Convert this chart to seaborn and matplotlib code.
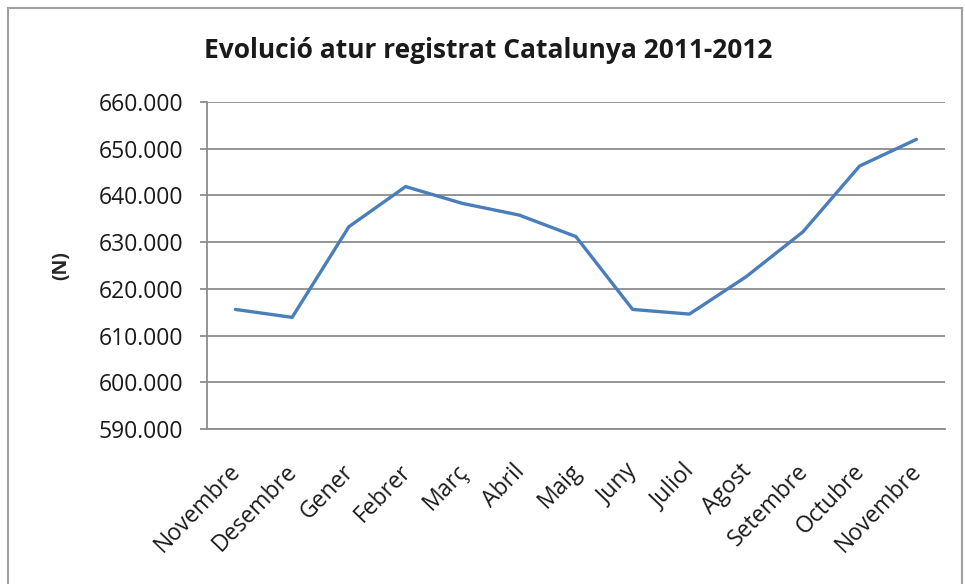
import numpy as np
import pandas as pd
import matplotlib
matplotlib.use("Agg")
import matplotlib.pyplot as plt
import matplotlib.ticker as mticker
import matplotlib.transforms as mtransforms
from matplotlib.patches import Rectangle
import seaborn as sns

# Data
months = ['Novembre', 'Desembre', 'Gener', 'Febrer', 'Març', 'Abril', 'Maig',
          'Juny', 'Juliol', 'Agost', 'Setembre', 'Octubre', 'Novembre']
atur = [615600, 613900, 633300, 641900, 638300, 635800, 631200,
        615600, 614600, 622600, 632200, 646300, 652000]
y_ticks = [590000, 600000, 610000, 620000, 630000, 640000, 650000, 660000]

df = pd.DataFrame({'pos': np.arange(len(months)), 'atur': atur})

sns.set_theme(style='white')
plt.rcParams['font.family'] = ['Open Sans', 'DejaVu Sans']

fig = plt.figure(figsize=(9.65, 5.84), dpi=100)
ax = fig.add_axes([0.2145, 0.2654, 0.7645, 0.5599])

sns.lineplot(data=df, x='pos', y='atur', ax=ax, color='#4a7ebb', linewidth=2.4)

ax.set_xlim(-0.5, len(months) - 0.5)
ax.set_ylim(y_ticks[0], y_ticks[-1])
ax.set_yticks(y_ticks)
ax.yaxis.set_major_formatter(mticker.FuncFormatter(lambda v, p: f'{int(v):,}'.replace(',', '.')))
ax.set_xticks(df['pos'])
ax.set_xticklabels(months, rotation=46, ha='right', rotation_mode='anchor')
ax.tick_params(axis='y', labelsize=16.5, colors='#1a1a1a', pad=12,
               length=5, width=1.3, color='#8c8c8c', left=True)
ax.tick_params(axis='x', labelsize=16.5, colors='#1a1a1a', length=0, pad=22)
shift = mtransforms.ScaledTranslation(-7 / 100, 0, fig.dpi_scale_trans)
for lbl in ax.get_xticklabels():
    lbl.set_verticalalignment('top')
    lbl.set_transform(lbl.get_transform() + shift)

ax.grid(axis='y', color='#8c8c8c', linewidth=1.3)
ax.set_axisbelow(True)
for s in ['top', 'right']:
    ax.spines[s].set_visible(False)
ax.spines['left'].set_color('#8c8c8c')
ax.spines['left'].set_linewidth(1.3)
ax.spines['bottom'].set_color('#8c8c8c')
ax.spines['bottom'].set_linewidth(1.3)

ax.set_xlabel('')
ax.set_ylabel('(N)', fontsize=14, fontweight='bold', labelpad=20)
fig.text(0.506, 0.913, 'Evolució atur registrat Catalunya 2011-2012',
         ha='center', va='center', fontsize=19, fontweight='bold', color='#1a1a1a')

# outer chart border
fig.patches.append(Rectangle((0.0083, -0.05), 0.989, 1.036, transform=fig.transFigure,
                             fill=False, edgecolor='#a0a0a0', linewidth=1.5))

fig.savefig('out.png', dpi=100)
